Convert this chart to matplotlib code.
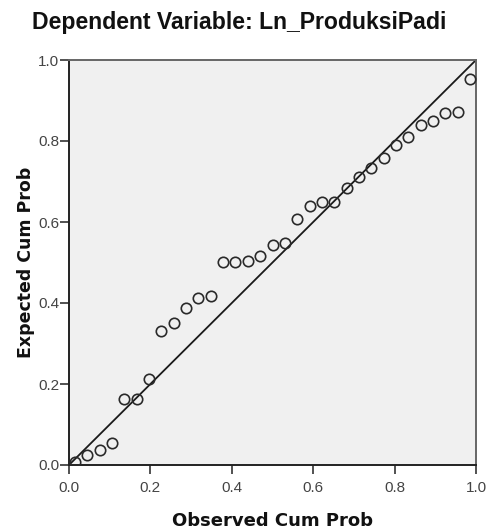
import matplotlib
matplotlib.use("Agg")
import matplotlib.pyplot as plt

title = "Dependent Variable: Ln_ProduksiPadi"
x_label = "Observed Cum Prob"
y_label = "Expected Cum Prob"

observed = [0.015, 0.045, 0.076, 0.106, 0.136, 0.167, 0.197, 0.227, 0.258, 0.288,
            0.318, 0.348, 0.379, 0.409, 0.439, 0.470, 0.500, 0.530, 0.561, 0.591,
            0.621, 0.652, 0.682, 0.712, 0.742, 0.773, 0.803, 0.833, 0.864, 0.894,
            0.924, 0.955, 0.985]
expected = [0.008, 0.025, 0.037, 0.055, 0.162, 0.162, 0.213, 0.331, 0.350, 0.387,
            0.412, 0.417, 0.502, 0.501, 0.504, 0.516, 0.543, 0.549, 0.607, 0.640,
            0.649, 0.649, 0.684, 0.710, 0.733, 0.757, 0.791, 0.809, 0.839, 0.850,
            0.868, 0.872, 0.954]
ticks = [0.0, 0.2, 0.4, 0.6, 0.8, 1.0]
tick_labels = ["0.0", "0.2", "0.4", "0.6", "0.8", "1.0"]

plt.rcParams['font.family'] = ['Liberation Sans', 'DejaVu Sans']

fig = plt.figure(figsize=(4.87, 5.32), dpi=100)
ax = fig.add_axes([69/487, 1-465/532, (476-69)/487, (465-60)/532])
ax.set_facecolor('#F0F0F0')

ax.plot([0, 1], [0, 1], color='#1a1a1a', lw=1.3, zorder=2)
ax.plot(observed, expected, linestyle='none', marker='o', markersize=7.5,
        markerfacecolor='none', markeredgecolor='#2a2a2a', markeredgewidth=1.2, zorder=3)

ax.set_xlim(0, 1)
ax.set_ylim(0, 1)
ax.set_xticks(ticks)
ax.set_xticklabels(tick_labels)
ax.set_yticks(ticks)
ax.set_yticklabels(tick_labels)
ax.tick_params(direction='out', length=6.5, width=1.2, color='#333333',
               labelsize=11, labelcolor='#444444')
ax.tick_params(axis='x', pad=5)
ax.tick_params(axis='y', pad=0.5)

for s in ['left', 'bottom']:
    ax.spines[s].set_color('#222222')
    ax.spines[s].set_linewidth(1.4)
for s in ['top', 'right']:
    ax.spines[s].set_color('#666666')
    ax.spines[s].set_linewidth(1.4)

ax.set_xlabel(x_label, fontsize=13, fontweight='bold', labelpad=12, color='#111111',
              family=['DejaVu Sans'])
ax.set_ylabel(y_label, fontsize=12.5, fontweight='bold', labelpad=2.5, color='#111111',
              family=['DejaVu Sans'])

fig.text(32/487, 1-23/532, title, fontsize=16.6, fontweight='bold', ha='left', va='center',
         color='#111111')

fig.savefig("out.png", dpi=100)
